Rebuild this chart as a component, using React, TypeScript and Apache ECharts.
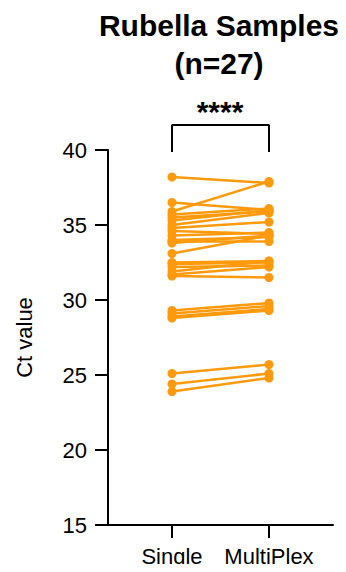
import React, { useEffect, useRef } from "react";
import * as echarts from "echarts";

const categories = ["Single", "MultiPlex"];
const singleCt = [
  38.2, 36.5, 35.9, 35.7, 35.5, 35.3, 35.0, 34.8, 34.6, 34.3, 34.0, 33.9, 33.8, 33.1,
  32.5, 32.4, 32.2, 31.9, 31.7, 31.6, 29.3, 29.1, 28.9, 28.8, 25.1, 24.4, 23.9,
];
const multiCt = [
  37.8, 36.0, 37.9, 36.1, 35.9, 36.0, 35.8, 35.2, 34.4, 34.5, 34.2, 33.9, 34.3, 34.3,
  32.6, 32.5, 32.3, 32.6, 32.2, 31.5, 29.8, 29.6, 29.4, 29.3, 25.7, 25.1, 24.8,
];
const yTicks = [15, 20, 25, 30, 35, 40];
const bracketTop = 41.67;
const bracketBottom = 39.87;

const ORANGE = "#FF9A0D";
const FONT = "Liberation Sans, Arial, sans-serif";

export default function App() {
  const ref = useRef<HTMLDivElement>(null);
  useEffect(() => {
    if (!ref.current) return;
    const chart = echarts.init(ref.current, undefined, { renderer: "svg" });
    const pairSeries = singleCt.map((s, i) => ({
      type: "line",
      data: [
        [0, s],
        [1, multiCt[i]],
      ],
      symbol: "circle",
      symbolSize: 9,
      lineStyle: { color: ORANGE, width: 2.5 },
      itemStyle: { color: ORANGE },
      silent: true,
      z: 3,
    }));
    const bracket = {
      type: "line",
      data: [
        [0, bracketBottom],
        [0, bracketTop],
        [1, bracketTop],
        [1, bracketBottom],
      ],
      symbol: "none",
      clip: false,
      lineStyle: { color: "#000", width: 2 },
      silent: true,
    };
    chart.setOption({
      animation: false,
      textStyle: { fontFamily: FONT },
      grid: { left: 108, right: 13, top: 150, bottom: 47, containLabel: false },
      xAxis: {
        type: "value",
        min: -0.66,
        max: 1.66,
        splitLine: { show: false },
        axisLine: { show: true, onZero: false, lineStyle: { color: "#000", width: 2 } },
        axisTick: {
          show: true,
          customValues: [0, 1],
          length: 13,
          lineStyle: { color: "#000", width: 2 },
        },
        axisLabel: {
          customValues: [0, 1],
          formatter: (v: number) => categories[Math.round(v)] ?? "",
          fontSize: 22,
          color: "#000",
          margin: 20,
          fontFamily: FONT,
        },
      },
      yAxis: {
        type: "value",
        min: yTicks[0],
        max: yTicks[yTicks.length - 1],
        interval: 5,
        name: "Ct value",
        nameLocation: "middle",
        nameRotate: 90,
        nameGap: 73,
        nameTextStyle: { fontSize: 22, color: "#000", fontFamily: FONT },
        splitLine: { show: false },
        axisLine: { show: true, onZero: false, lineStyle: { color: "#000", width: 2 } },
        axisTick: { show: true, length: 13, lineStyle: { color: "#000", width: 2 } },
        axisLabel: { fontSize: 22, color: "#000", margin: 21, fontFamily: FONT },
      },
      graphic: [
        {
          type: "text",
          x: 219,
          y: 6,
          style: {
            text: "Rubella Samples\n(n=27)",
            fontSize: 30,
            fontWeight: "bold",
            lineHeight: 38,
            fill: "#000",
            textAlign: "center",
            fontFamily: FONT,
          },
        },
        {
          type: "text",
          x: 220,
          y: 96,
          style: {
            text: "****",
            fontSize: 30,
            fontWeight: "bold",
            fill: "#000",
            textAlign: "center",
            fontFamily: FONT,
          },
        },
      ],
      series: [...pairSeries, bracket],
    });
    return () => chart.dispose();
  }, []);
  return <div ref={ref} style={{ width: 346, height: 572, margin: -8 }} />;
}
